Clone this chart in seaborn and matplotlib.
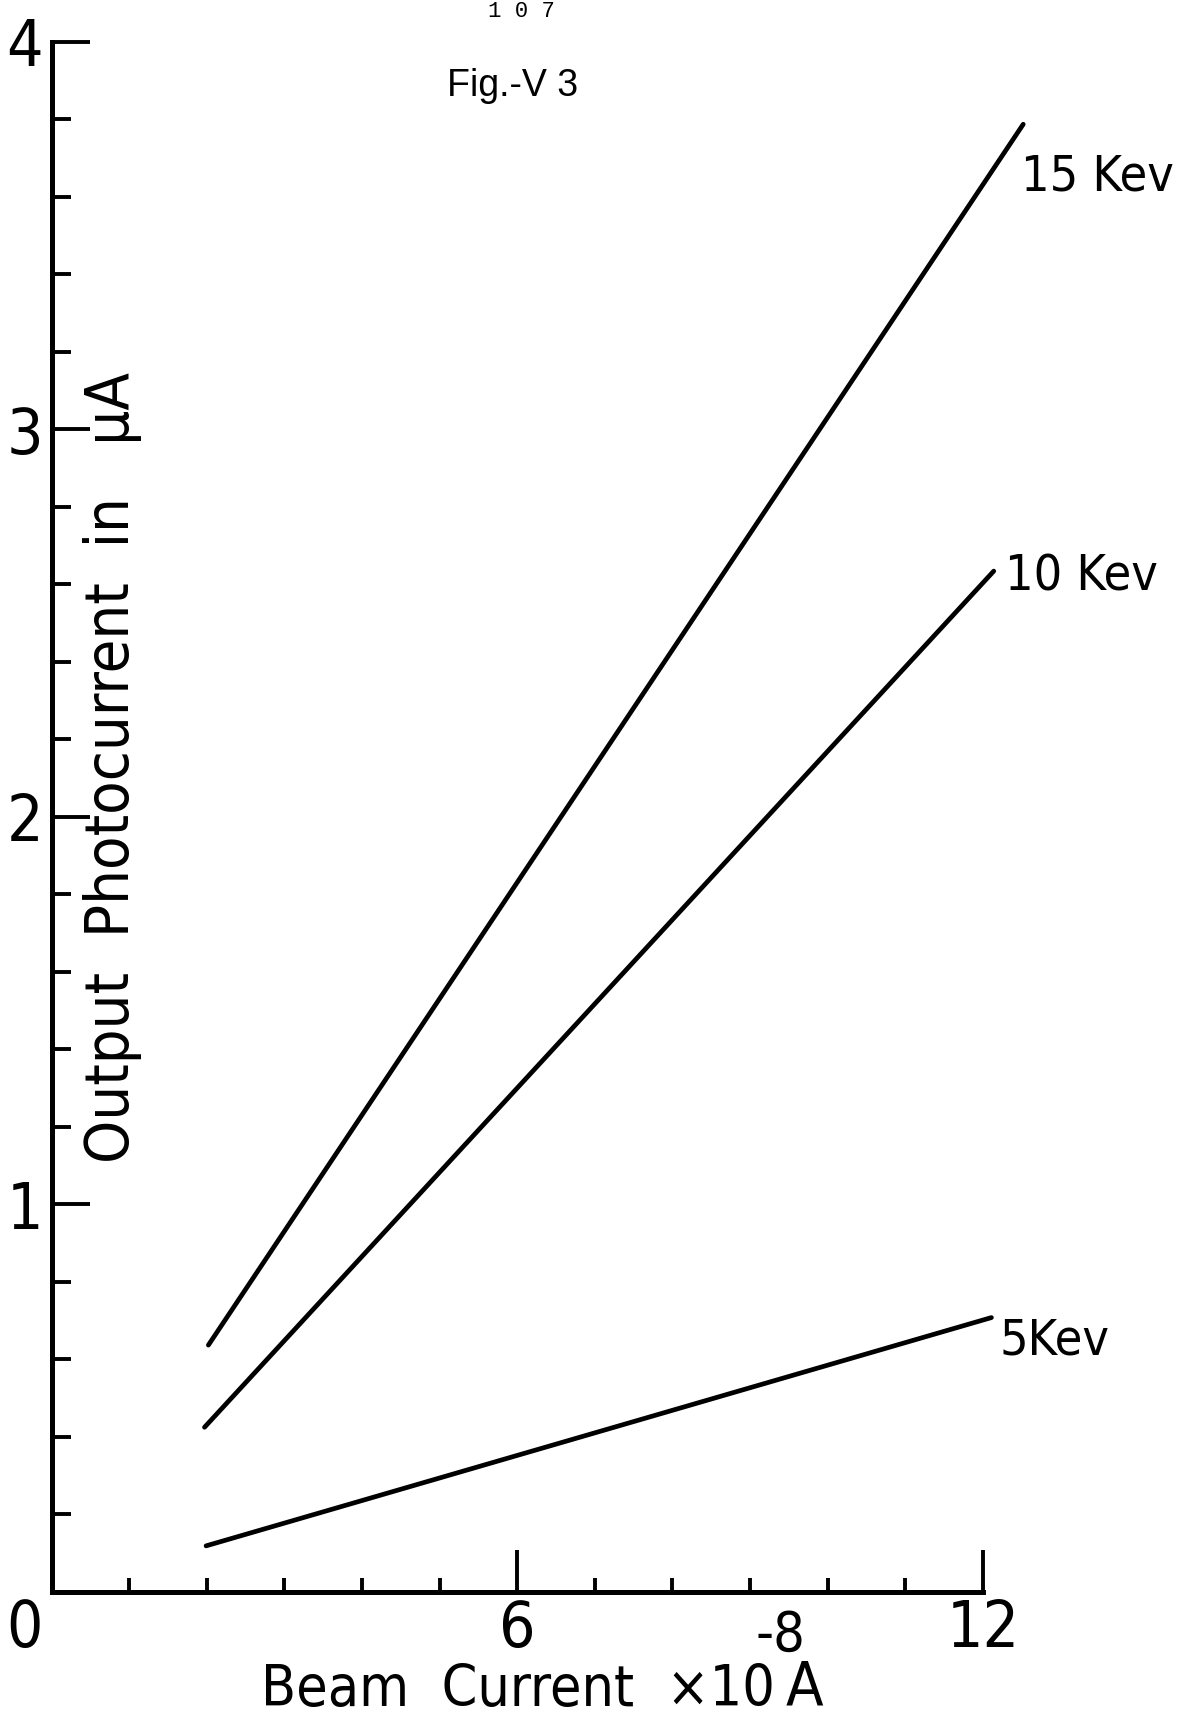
import numpy as np
import pandas as pd
import matplotlib
matplotlib.use("Agg")
import matplotlib.pyplot as plt
import matplotlib.transforms as mtransforms
from matplotlib import font_manager
from matplotlib.ticker import FixedLocator
import seaborn as sns

# Measured photocurrent (uA) against beam current (x 1e-8 A) per beam energy
energy_labels = ["15 Kev", "10 Kev", "5Kev"]
beam_15 = [2.02, 12.52]
photo_15 = [0.637, 3.787]
beam_10 = [1.97, 12.14]
photo_10 = [0.425, 2.634]
beam_5 = [1.99, 12.11]
photo_5 = [0.119, 0.708]

x_major = [0, 6, 12]
x_major_labels = ["0", "6", "12"]
x_minor = [1, 2, 3, 4, 5, 7, 8, 9, 10, 11]
y_major = [0, 1, 2, 3, 4]
y_major_labels = ["", "1", "2", "3", "4"]
y_minor = [0.2, 0.4, 0.6, 0.8, 1.2, 1.4, 1.6, 1.8, 2.2, 2.4, 2.6, 2.8,
           3.2, 3.4, 3.6, 3.8]

# label anchor (left edge, vertical centre) for each curve
label_x = [12.49, 12.29, 12.21]
label_y = [3.653, 2.621, 0.650]

df = pd.concat([
    pd.DataFrame({"beam": beam_15, "photo": photo_15, "energy": energy_labels[0]}),
    pd.DataFrame({"beam": beam_10, "photo": photo_10, "energy": energy_labels[1]}),
    pd.DataFrame({"beam": beam_5, "photo": photo_5, "energy": energy_labels[2]}),
], ignore_index=True)

sns.set_theme(style="white")
available = {f.name for f in font_manager.fontManager.ttflist}
if "Liberation Sans Narrow" in available:
    narrow = dict(family="Liberation Sans Narrow")
else:
    narrow = dict(family="DejaVu Sans", stretch="condensed")
plt.rcParams["font.family"] = ["DejaVu Sans"]

fig = plt.figure(figsize=(11.87, 17.22), dpi=100)
ax = fig.add_axes([0.0435, 0.0755, 0.8826, 0.9003])

sns.lineplot(data=df, x="beam", y="photo", hue="energy",
             palette=["black"] * 3, linewidth=3.4, legend=False, ax=ax,
             sort=False)

ax.set_xlim(0, 13.5)
ax.set_ylim(0, 4)

for side in ["top", "right"]:
    ax.spines[side].set_visible(False)
for side in ["left", "bottom"]:
    ax.spines[side].set_color("black")
    ax.spines[side].set_linewidth(3.6)
ax.spines["bottom"].set_bounds(0, 12)
ax.spines["left"].set_bounds(0, 4)

ax.xaxis.set_major_locator(FixedLocator(x_major))
ax.xaxis.set_minor_locator(FixedLocator(x_minor))
ax.yaxis.set_major_locator(FixedLocator(y_major))
ax.yaxis.set_minor_locator(FixedLocator(y_minor))
ax.set_xticklabels(x_major_labels)
ax.set_yticklabels(y_major_labels)

ax.tick_params(axis="x", which="major", direction="in", length=30, width=2.8,
               color="black", pad=4, bottom=True)
ax.tick_params(axis="x", which="minor", direction="in", length=10, width=2.8,
               color="black", bottom=True)
ax.tick_params(axis="y", which="major", direction="in", length=27, width=2.8,
               color="black", pad=6, left=True)
ax.tick_params(axis="y", which="minor", direction="in", length=14, width=2.8,
               color="black", left=True)

for lab in ax.get_xticklabels() + ax.get_yticklabels():
    lab.set_fontproperties(font_manager.FontProperties(size=46, **narrow))
    lab.set_color("black")

# the origin "0" sits below and left of the corner
zero_label = ax.get_xticklabels()[0]
zero_label.set_transform(zero_label.get_transform() +
                         mtransforms.ScaledTranslation(-27 / 100, 0, fig.dpi_scale_trans))

ax.set_ylabel("Output  Photocurrent  in   \u03bcA", fontsize=44, color="black", **narrow)
ax.yaxis.label.set_va("center")
ax.yaxis.set_label_coords(0.0577, 0.5315)

ax.set_xlabel("Beam  Current  \u00d710", fontsize=41, color="black", **narrow)
ax.xaxis.label.set_va("baseline")
ax.xaxis.set_label_coords(0.4450, -0.0735)
ax.annotate("-8", xy=(1, 1), xycoords=ax.xaxis.label, xytext=(4, 0),
            textcoords="offset points", ha="center", va="bottom",
            fontsize=40, color="black", **narrow)
ax.annotate("A", xy=(1, 0), xycoords=ax.xaxis.label, xytext=(8, 0),
            textcoords="offset points", ha="left", va="bottom",
            fontsize=44, color="black", **narrow)

for name, lx, ly in zip(energy_labels, label_x, label_y):
    ax.text(lx, ly, name, ha="left", va="center", fontsize=36,
            color="black", **narrow)

fig.text(0.432, 0.950, "Fig.-V 3", ha="center", va="center", fontsize=27,
         color="black", family="Liberation Sans")
fig.text(0.439, 0.9995, "1 0 7", ha="center", va="top", fontsize=16,
         color="black", family="Liberation Mono")

fig.savefig("out.png", dpi=100, facecolor="white")
